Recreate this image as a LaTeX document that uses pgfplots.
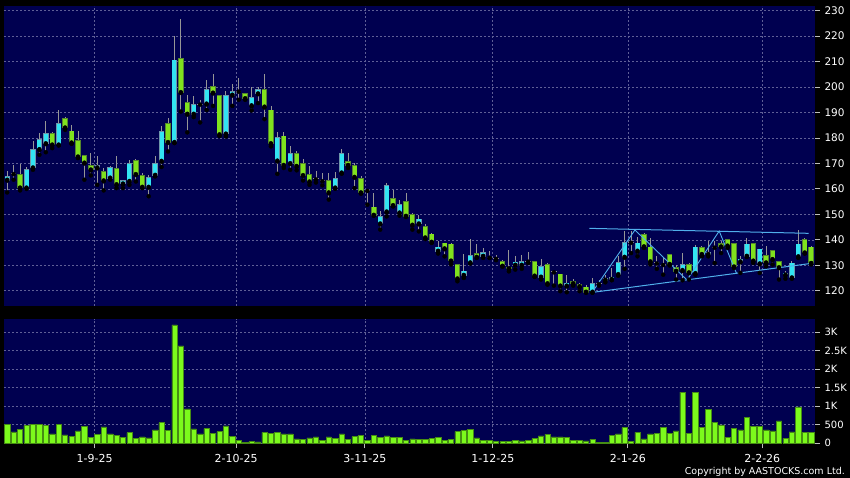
\documentclass[border=0pt]{standalone}
\usepackage{fontspec}
\setmainfont{DejaVu Sans}
\usepackage{pgfplots}
\usepackage{pgfplotstable}
\pgfplotsset{compat=1.18}
\definecolor{navy}{RGB}{0,0,80}
\definecolor{gridc}{RGB}{95,95,150}
\definecolor{cyanc}{RGB}{50,228,242}
\definecolor{cyanb}{RGB}{110,150,170}
\definecolor{greenc}{RGB}{128,226,30}
\definecolor{greenb}{RGB}{85,135,45}
\definecolor{wickc}{RGB}{150,150,150}
\definecolor{volc}{RGB}{124,250,28}
\definecolor{volb}{RGB}{70,140,20}
\definecolor{trendc}{RGB}{80,175,235}
\definecolor{tickc}{RGB}{190,190,190}

% up days (cyan): index, low, high, body bottom, body top
\pgfplotstableread{
i lo hi bot top
0 158.6 166.9 163.4 164.9
3 160.0 168.5 160.3 167.8
4 167.5 179.0 168.2 175.6
5 173.4 181.9 175.4 179.5
6 174.4 186.6 177.7 181.9
8 177.1 191.0 177.2 185.8
14 161.6 172.8 168.2 169.1
16 163.6 168.8 164.2 168.4
18 160.3 163.6 161.9 163.2
19 161.6 171.4 162.9 170.1
22 157.1 165.6 160.6 164.6
23 164.9 173.0 165.3 170.1
24 168.6 184.8 170.8 182.5
26 178.0 220.2 178.2 210.7
29 188.2 196.3 189.3 193.3
31 191.0 202.8 193.3 199.2
34 180.6 198.6 181.5 196.7
35 192.6 201.1 196.8 198.4
38 190.8 199.9 192.6 195.9
39 193.7 199.9 197.3 199.2
42 165.9 182.5 170.9 180.3
44 167.5 176.7 169.9 173.8
51 160.1 166.5 160.3 164.2
52 166.0 175.6 166.2 174.1
58 144.0 151.2 146.2 149.2
59 149.2 162.3 150.9 161.4
61 149.5 155.8 150.5 153.8
64 143.3 149.9 146.2 148.2
67 134.6 139.4 135.5 137.2
71 125.0 134.6 126.0 127.8
72 130.7 140.3 130.9 133.9
74 132.9 136.8 133.5 135.2
79 128.3 133.8 130.0 131.3
80 128.6 134.2 130.0 131.6
83 124.4 132.5 125.3 129.6
87 119.4 126.3 121.8 123.1
91 119.2 125.0 119.4 122.8
93 123.3 126.3 124.1 125.0
94 124.1 128.9 124.4 125.4
95 125.9 133.5 126.3 131.2
96 128.6 143.3 133.1 139.0
98 133.5 141.1 135.5 138.8
105 124.1 134.8 127.9 130.3
107 126.3 138.1 126.7 137.2
109 133.5 139.4 134.2 135.1
114 127.0 133.5 131.3 132.5
115 133.3 140.7 133.5 138.4
117 127.0 136.4 130.5 136.4
121 124.7 127.6 126.1 127.0
122 124.7 131.6 125.0 130.9
123 132.9 144.0 133.3 138.4
}\upT

% down days (green)
\pgfplotstableread{
i lo hi bot top
2 159.4 169.9 160.3 165.8
7 176.0 182.5 177.2 181.9
9 183.2 188.2 183.9 187.8
10 177.7 185.2 178.0 182.8
11 172.1 182.8 172.5 179.0
12 163.6 173.0 170.1 173.0
13 165.3 174.1 167.4 169.3
15 159.4 168.2 163.1 167.0
17 160.3 173.0 161.6 168.2
20 162.9 171.7 165.6 171.3
21 160.3 166.2 160.6 165.3
25 174.7 187.8 178.2 185.8
27 190.4 226.7 197.8 211.3
28 182.2 196.9 189.3 194.1
32 192.6 205.2 197.6 200.2
33 180.8 196.9 181.2 196.7
37 195.0 197.8 195.4 197.6
40 187.4 205.2 192.1 199.2
41 176.7 192.6 177.7 191.0
43 168.2 182.2 169.2 180.8
45 167.3 174.7 168.8 173.8
46 163.3 171.7 165.2 169.9
47 161.6 169.1 162.7 165.7
50 155.8 166.2 158.4 163.2
53 168.2 174.1 169.2 170.9
54 160.3 170.1 164.5 169.2
55 158.1 164.9 158.4 164.2
57 149.5 158.4 149.6 152.9
60 153.1 159.7 153.4 156.4
62 149.0 158.4 149.2 155.1
63 144.0 150.5 145.7 149.9
65 140.3 146.3 140.7 145.3
66 138.8 142.7 139.0 142.3
68 133.5 138.8 136.4 138.8
69 130.3 138.8 131.6 138.4
70 123.7 130.3 124.6 130.3
73 132.9 138.5 133.1 134.8
77 129.6 131.9 129.6 131.6
78 127.6 136.1 128.6 129.3
82 125.4 131.6 125.7 131.6
84 122.4 130.9 122.7 130.5
86 119.8 126.6 121.8 126.6
88 122.0 124.5 122.7 123.7
89 119.8 123.1 121.5 122.4
90 119.2 122.4 119.4 121.5
99 136.8 142.7 137.2 142.0
100 130.3 140.7 131.3 137.2
103 129.9 134.6 130.3 134.2
104 124.4 130.3 127.6 129.2
106 124.4 130.9 127.0 130.3
108 133.5 137.5 134.2 137.1
111 134.8 139.4 137.2 138.5
112 136.8 140.3 137.5 140.1
113 128.9 138.8 129.3 138.5
116 130.9 138.8 131.6 138.5
118 129.6 137.7 130.9 133.8
119 130.3 135.9 132.2 135.9
120 124.4 131.6 129.0 131.6
124 134.6 140.7 134.8 140.1
125 130.3 137.5 130.7 137.2
}\downT

% unchanged days (doji)
\pgfplotstableread{
i lo hi bot top
1 163.6 169.2 165.8 166.2
30 186.1 195.0 193.1 193.5
36 195.0 203.5 198.2 198.6
48 162.5 166.9 163.7 164.1
49 161.4 166.2 163.0 163.4
56 153.8 159.7 159.2 159.6
75 132.9 135.5 132.9 133.3
76 132.0 134.2 132.5 132.9
81 130.9 135.2 131.4 131.8
85 122.0 127.4 127.2 127.6
92 122.0 124.4 122.6 123.0
97 134.8 143.3 138.8 139.2
101 128.6 133.5 130.7 131.1
102 126.3 132.9 130.1 130.5
110 130.9 139.4 136.9 137.3
}\flatT

\pgfplotstableread{
i v
0 513
1 306
2 378
3 477
4 513
5 504
6 486
7 252
8 504
9 225
10 180
11 333
12 450
13 162
14 234
15 441
16 252
17 216
18 153
19 288
20 135
21 171
22 144
23 360
24 558
25 342
26 3190
27 2628
28 927
29 387
30 252
31 396
32 270
33 315
34 468
35 180
36 81
37 27
38 45
39 36
40 297
41 270
42 288
43 252
44 252
45 117
46 108
47 144
48 171
49 72
50 171
51 135
52 252
53 99
54 180
55 216
56 81
57 207
58 153
59 198
60 162
61 162
62 72
63 117
64 99
65 112
66 126
67 153
68 72
69 99
70 315
71 342
72 378
73 144
74 81
75 81
76 54
77 54
78 45
79 81
80 63
81 72
82 126
83 198
84 243
85 171
86 171
87 162
88 72
89 72
90 63
91 108
92 27
93 27
94 207
95 252
96 423
97 54
98 297
99 117
100 252
101 270
102 423
103 270
104 333
105 1377
106 270
107 1368
108 423
109 918
110 558
111 495
112 162
113 405
114 360
115 702
116 459
117 459
118 360
119 333
120 603
121 135
122 306
123 981
124 297
125 288
}\vol

\pgfplotsset{
  candlebar/.style 2 args={
    only marks, mark=none,
    error bars/y dir=plus, error bars/y explicit, error bars/error mark=none,
    error bars/error bar style={line width=#1, draw=#2, solid}
  },
  panel/.style={
    scale only axis, width=811pt,
    xmin=-0.5, xmax=125.6,
    axis background/.style={fill=navy},
    axis line style={draw=none},
    grid=major,
    major grid style={draw=gridc, dash pattern=on 2pt off 2pt, line width=0.6pt},
    xtick={13.6,35.6,55.6,75.5,96.5,117.4},
    tick align=outside,
    ytick pos=right, yticklabel pos=right,
    xtick pos=left,
    tick style={draw=tickc, line width=0.8pt},
    major tick length=5pt,
    ticklabel style={text=white, font=\fontsize{10.5}{12}\selectfont},
    yticklabel style={xshift=1pt},
    /pgf/number format/assume math mode=true,
    /pgf/number format/1000 sep={},
  }
}
\newcommand{\wicks}[1]{%
  \addplot[candlebar={0.8pt}{wickc}] table[x=i, y=lo,
    y error plus expr={\thisrow{hi}-\thisrow{lo}}] {#1};}
\newcommand{\bodies}[3]{%
  \addplot[candlebar={5.4pt}{#2}] table[x=i, y expr={\thisrow{bot}-0.12},
    y error plus expr={max(\thisrow{top}-\thisrow{bot},0.3)+0.24}] {#1};
  \addplot[candlebar={4.0pt}{#3}] table[x=i, y expr={\thisrow{bot}+0.2},
    y error plus expr={max(\thisrow{top}-\thisrow{bot}-0.4,0.1)}] {#1};}

\begin{document}
\begin{tikzpicture}
\fill[black] (0pt,0pt) rectangle (850pt,478pt);

\begin{axis}[panel,
  at={(4pt,172pt)}, anchor=south west, height=300pt,
  ymin=114, ymax=231.85,
  ytick={120,130,...,230},
  xticklabels={}, xtick style={draw=none},
]
\wicks{\upT}
\wicks{\downT}
\wicks{\flatT}
\bodies{\upT}{cyanb}{cyanc}
\bodies{\downT}{greenb}{greenc}
\addplot[candlebar={5.4pt}{wickc}] table[x=i, y=bot,
  y error plus expr={\thisrow{top}-\thisrow{bot}}] {\flatT};
% trend lines
\addplot[trendc, line width=1pt, mark=none] coordinates {(90.5,144.5) (124.6,142.55)};
\addplot[trendc, line width=1pt, mark=none] coordinates {(91.15,119.4) (125.2,130.8)};
\addplot[trendc, line width=0.9pt, mark=none] coordinates {(91.2,120.3) (97.6,143.85) (105.7,124.2) (110.7,143.45) (113.4,126.8)};
\end{axis}

\begin{axis}[panel,
  at={(4pt,34.7pt)}, anchor=south west, height=124.3pt,
  ymin=0, ymax=3351,
  ytick={0,500,1000,1500,2000,2500,3000},
  yticklabels={0,500,1K,1.5K,2K,2.5K,3K},
  yticklabel style={font=\fontsize{10}{12}\selectfont},
  xticklabels={1-9-25,2-10-25,3-11-25,1-12-25,2-1-26,2-2-26},
  xticklabel style={font=\fontsize{11}{12}\selectfont, yshift=-3pt},
]
\addplot[ybar, bar width=5.3pt, fill=volc, draw=volb, line width=0.5pt] table[x=i, y=v] {\vol};
\end{axis}

\node[anchor=base east, text=white, inner sep=0pt, font=\fontsize{9.5}{11}\selectfont] at (845pt,3.7pt) {Copyright by AASTOCKS.com Ltd.};

\pgfresetboundingbox
\useasboundingbox (0pt,0pt) rectangle (850pt,478pt);
\end{tikzpicture}
\end{document}
